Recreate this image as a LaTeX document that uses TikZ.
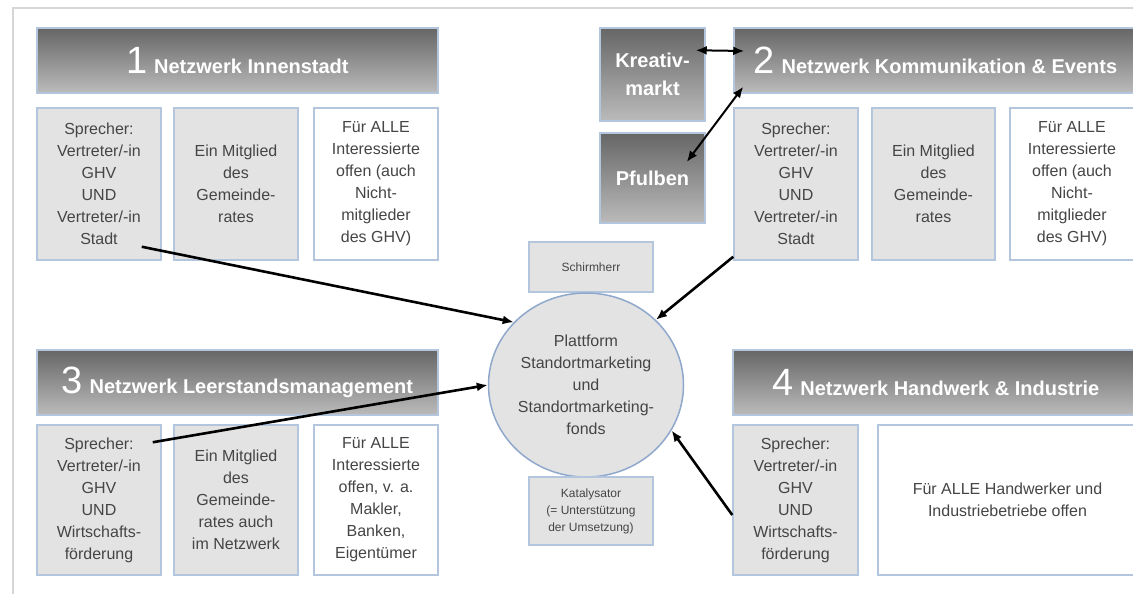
\documentclass[tikz,border=0pt]{standalone}
\usepackage{fontspec}
\setmainfont{Liberation Sans}
\usetikzlibrary{shapes.geometric,arrows.meta}

\definecolor{edge}{HTML}{B4C6DE}
\definecolor{ringblue}{HTML}{8FA8CC}
\definecolor{cellgray}{HTML}{E3E3E3}
\definecolor{txt}{HTML}{454545}
\definecolor{hdtop}{HTML}{666666}
\definecolor{hdbot}{HTML}{BBBBBB}
\definecolor{framegray}{HTML}{D6D6D6}

\tikzset{
  head/.style={rectangle,draw=edge,line width=1.5pt,top color=hdtop,bottom color=hdbot,
    text=white,font=\bfseries\fontsize{20}{24}\selectfont,minimum height=65pt,inner sep=0pt},
  side/.style={head,align=center,minimum width=105pt},
  cell/.style={rectangle,draw=edge,line width=1.5pt,fill=cellgray,text=txt,align=center,
    font=\fontsize{16}{22}\selectfont,minimum width=124pt,minimum height=152pt,inner sep=0pt},
  opencell/.style={cell,fill=white},
  link/.style={->,line width=2.6pt},
  twoway/.style={<->,line width=2pt}
}
\newcommand{\nr}[1]{{\mdseries\fontsize{38}{38}\selectfont #1}\,\,}

\begin{document}
\begin{tikzpicture}[x=1pt,y=-1pt,>={Latex[length=11pt,width=9pt]}]
  \clip (0,0) rectangle (1133,594);
  \fill[white] (0,0) rectangle (1133,594);
  \draw[framegray,line width=1.5pt] (1133,8) -- (13,8) -- (13,594);

  % Netzwerk 1
  \node[head,minimum width=401pt] (h1) at (237.5,60.5) {\nr{1}Netzwerk Innenstadt};
  \node[cell] (b1a) at (99,184) {Sprecher:\\Vertreter/-in\\GHV\\UND\\Vertreter/-in\\Stadt};
  \node[cell] (b1b) at (236,184) {Ein Mitglied\\des\\Gemeinde-\\rates};
  \node[opencell] (b1c) at (376,184) {Für ALLE\\Interessierte\\offen (auch\\Nicht-\\mitglieder\\des GHV)};

  % Netzwerk 2
  \node[side,minimum height=93pt,font=\bfseries\fontsize{20}{28}\selectfont] (kr) at (652.5,74.5) {Kreativ-\\markt};
  \node[side,minimum height=90pt] (pf) at (652.5,178) {Pfulben};
  \node[head,minimum width=403pt] (h2) at (935.5,60.5) {\nr{2}Netzwerk Kommunikation \& Events};
  \node[cell] (b2a) at (796,184) {Sprecher:\\Vertreter/-in\\GHV\\UND\\Vertreter/-in\\Stadt};
  \node[cell,minimum width=123pt] (b2b) at (933.5,184) {Ein Mitglied\\des\\Gemeinde-\\rates};
  \node[opencell] (b2c) at (1072,184) {Für ALLE\\Interessierte\\offen (auch\\Nicht-\\mitglieder\\des GHV)};

  % Plattform
  \node[cell,minimum height=50pt,font=\fontsize{12}{14}\selectfont] (sch) at (591,267) {Schirmherr};
  \node[ellipse,draw=ringblue,line width=1.5pt,fill=cellgray,text=txt,align=center,
    font=\fontsize{16}{22}\selectfont,minimum width=195pt,minimum height=184pt,inner sep=0pt]
    (plat) at (586,385) {Plattform\\Standortmarketing\\und\\Standortmarketing-\\fonds};
  \node[cell,minimum height=68pt,font=\fontsize{12}{17}\selectfont] (kat) at (591,511)
    {Katalysator\\(= Unterstützung\\der Umsetzung)};

  % Netzwerk 3
  \node[head,minimum width=401pt] (h3) at (237.5,382.5) {\nr{3}Netzwerk Leerstandsmanagement};
  \node[cell,minimum height=150pt] (b3a) at (99,500) {Sprecher:\\Vertreter/-in\\GHV\\UND\\Wirtschafts-\\förderung};
  \node[cell,minimum height=150pt] (b3b) at (236,500) {Ein Mitglied\\des\\Gemeinde-\\rates auch\\im Netzwerk};
  \node[opencell,minimum height=150pt] (b3c) at (376,500) {Für ALLE\\Interessierte\\offen, v. a.\\Makler,\\Banken,\\Eigentümer};

  % Netzwerk 4
  \node[head,minimum width=406pt] (h4) at (936,382.5) {\nr{4}Netzwerk Handwerk \& Industrie};
  \node[cell,minimum width=125pt,minimum height=150pt] (b4a) at (795.5,500) {Sprecher:\\Vertreter/-in\\GHV\\UND\\Wirtschafts-\\förderung};
  \node[opencell,minimum width=259pt,minimum height=150pt] (b4b) at (1007.5,500) {Für ALLE Handwerker und\\Industriebetriebe offen};

  % Verbindungen
  \draw[link] ([xshift=-20pt,yshift=14pt]b1a.south east) -- (plat.139);
  \draw[link] ([xshift=-9pt,yshift=-18pt]b3a.north east) -- (plat.west);
  \draw[link] ([yshift=4pt]b2a.south west) -- (plat.43);
  \draw[link] ([yshift=-15pt]b4a.west) -- (plat.-28);
  \draw[twoway] ([xshift=-10pt,yshift=-23pt]kr.north east) -- ([xshift=11pt,yshift=9.5pt]h2.west);
  \draw[twoway] ([xshift=-19pt,yshift=16pt]pf.east) -- ([xshift=10pt,yshift=7pt]h2.south west);
\end{tikzpicture}
\end{document}
